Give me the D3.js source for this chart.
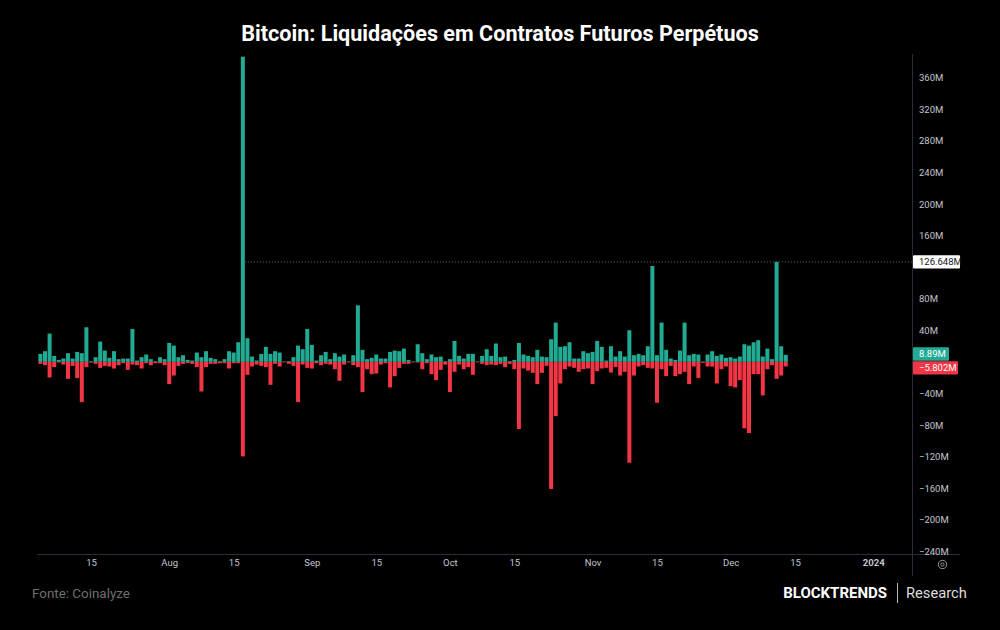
<!DOCTYPE html>
<html>
<head>
<meta charset="utf-8">
<script src="https://cdn.jsdelivr.net/npm/d3@7"></script>
<style>
  html, body { margin: 0; padding: 0; background: #000; }
  svg { display: block; }
</style>
</head>
<body>
<svg id="chart" width="1000" height="630"></svg>
<script>
// ---- DATA (values in millions USD) ----
const startDay = "2023-07-04";
const endDay = "2023-12-14"; // exclusive
const longLiq = [
  10.1,13.5,35.8,7.6,2.5,4.2,11.0,4.2,12.6,11.0,
  43.8,0.8,5.9,25.7,14.3,5.1,13.5,3.4,4.2,4.2,
  41.7,1.7,5.9,9.3,3.4,0.8,5.9,3.4,24.0,20.6,
  5.9,8.4,2.5,1.7,11.8,5.9,13.5,5.1,3.4,0.8,
  3.4,13.5,11.8,24.8,386.6,29.9,6.7,1.7,10.1,19.0,
  10.1,13.5,11.8,0.6,0.8,5.9,20.6,16.0,41.7,21.5,
  1.7,8.4,12.6,3.4,11.0,6.7,9.3,0.6,8.4,71.6,
  15.2,3.4,5.1,9.3,4.2,4.2,12.6,14.3,13.5,16.8,
  2.5,0.6,22.3,11.0,3.4,9.3,5.9,6.7,0.8,3.4,
  26.5,7.6,4.2,10.1,10.1,0.6,7.6,16.0,7.6,23.2,
  5.9,6.7,0.8,2.5,24.0,9.3,7.6,5.9,15.2,6.7,
  5.9,28.6,49.7,19.0,19.8,24.8,4.2,4.2,13.5,11.0,
  12.6,26.5,19.0,1.7,19.8,6.7,13.5,6.7,40.0,8.4,
  10.1,8.4,19.8,121.4,8.4,49.7,15.2,4.2,2.5,14.3,
  49.7,8.4,10.1,9.3,0.5,9.3,13.5,7.6,9.3,5.1,
  5.9,4.2,6.7,22.3,20.6,24.8,27.4,6.7,16.8,3.4,
  126.648,19.8,8.89
];
const shortLiq = [
  2.5,4.2,19.8,6.7,0.8,3.4,21.5,5.1,20.6,51.0,
  6.7,0.8,2.5,7.6,5.1,5.9,8.4,4.2,1.7,10.1,
  3.4,4.2,8.4,1.7,4.2,1.7,1.7,4.2,28.2,17.3,
  5.1,2.5,1.7,2.5,6.7,37.5,6.7,2.5,2.5,1.7,
  1.7,8.4,1.7,1.7,119.8,16.4,5.9,3.4,5.1,6.7,
  29.1,2.5,5.9,0.6,2.5,5.1,51.0,3.4,7.6,8.4,
  1.7,4.2,2.5,3.4,9.3,24.0,3.4,0.6,4.2,6.7,
  38.3,9.3,15.6,14.7,3.4,1.7,32.4,18.1,7.6,2.5,
  2.5,0.6,0.8,9.3,1.7,15.6,23.2,10.1,3.4,38.3,
  12.6,3.4,9.3,6.7,16.4,0.6,2.5,4.2,3.4,4.2,
  2.5,6.7,2.5,9.3,85.1,8.4,11.0,13.9,28.2,13.9,
  5.1,161.0,68.7,27.4,9.3,5.9,7.6,12.6,9.3,8.4,
  28.2,11.8,8.4,7.6,13.5,6.7,17.3,12.6,127.8,17.3,
  5.9,4.2,7.6,8.4,51.8,9.3,18.1,5.1,18.1,15.6,
  12.6,28.2,5.9,20.6,1.2,5.9,5.9,27.4,9.3,5.9,
  30.8,32.4,23.2,84.3,90.2,15.6,15.6,42.5,9.3,4.2,
  21.5,17.3,5.802
];
const xTickDates = ["2023-07-15","2023-08-01","2023-08-15","2023-09-01","2023-09-15","2023-10-01","2023-10-15","2023-11-01","2023-11-15","2023-12-01","2023-12-15","2024-01-01"];
const xTickLabels = ["15","Aug","15","Sep","15","Oct","15","Nov","15","Dec","15","2024"];
const yTicks = [-240,-200,-160,-120,-80,-40,0,40,80,120,160,200,240,280,320,360];
const yTicksCovered = [0, 120]; // hidden under the price labels in the reference
const markerLevel = 126.648;
const markerFrom = "2023-08-17";
const lastLong = 8.89, lastShort = -5.802;

const title = "Bitcoin: Liquidações em Contratos Futuros Perpétuos";
const source = "Fonte: Coinalyze";

// ---- SETUP ----
const svg = d3.select("#chart");
const parse = d3.utcParse("%Y-%m-%d");
const dates = d3.utcDays(parse(startDay), parse(endDay));
const data = dates.map((d, i) => ({ date: d, pos: longLiq[i], neg: shortLiq[i] }));

const axisX = 912;
const x = d3.scaleUtc()
  .domain([parse("2023-07-15"), parse("2023-12-15")])
  .range([91, 795]);
const y = d3.scaleLinear().domain([-240, 360]).range([551.3, 77.7]);

const GREEN = "#22ab94", RED = "#f23645";
const barW = 4;

svg.append("rect").attr("width", 1000).attr("height", 630).attr("fill", "#000");

// bars
const g = svg.append("g");
g.selectAll("rect.pos").data(data).join("rect")
  .attr("class", "pos")
  .attr("x", d => x(d.date) - barW / 2)
  .attr("width", barW)
  .attr("y", d => y(d.pos))
  .attr("height", d => y(0) - y(d.pos))
  .attr("fill", GREEN);
g.selectAll("rect.neg").data(data).join("rect")
  .attr("class", "neg")
  .attr("x", d => x(d.date) - barW / 2)
  .attr("width", barW)
  .attr("y", y(0))
  .attr("height", d => y(-d.neg) - y(0))
  .attr("fill", RED);

// dotted marker line
svg.append("line")
  .attr("x1", x(parse(markerFrom)) + barW / 2).attr("x2", axisX)
  .attr("y1", y(markerLevel)).attr("y2", y(markerLevel))
  .attr("stroke", "#6a6d78").attr("stroke-width", 1)
  .attr("stroke-dasharray", "1,2");

// frame lines
svg.append("line").attr("x1", 37).attr("x2", 960).attr("y1", 554.5).attr("y2", 554.5)
  .attr("stroke", "#2a2e39").attr("stroke-width", 1);
svg.append("line").attr("x1", axisX + 0.5).attr("x2", axisX + 0.5).attr("y1", 54).attr("y2", 576)
  .attr("stroke", "#2a2e39").attr("stroke-width", 1);

// y axis
const yAxis = d3.axisRight(y).tickValues(yTicks.filter(t => !yTicksCovered.includes(t)))
  .tickSize(0).tickPadding(7)
  .tickFormat(d => (d < 0 ? "\u2212" + Math.abs(d) : d) + "M");
const yg = svg.append("g").attr("transform", `translate(${axisX},0)`).call(yAxis);
yg.select(".domain").remove();
yg.selectAll("text").attr("fill", "#c3c6ce").style("font-family", "Roboto, sans-serif").style("font-size", "9.5px");

// x axis
const xAxis = d3.axisBottom(x).tickValues(xTickDates.map(parse)).tickSize(0).tickPadding(0)
  .tickFormat((d, i) => xTickLabels[i]);
const xg = svg.append("g").attr("transform", "translate(0,559)").call(xAxis);
xg.select(".domain").remove();
xg.selectAll("text").attr("fill", "#c3c6ce").attr("dy", "0.71em")
  .style("font-family", "Roboto, sans-serif").style("font-size", "9.5px")
  .style("font-weight", (d, i) => xTickLabels[i] === "2024" ? "700" : "400");

// price labels
function priceLabel(cy, text, bg, fg, w) {
  svg.append("rect").attr("x", axisX + 1).attr("y", cy - 6.7).attr("width", w).attr("height", 13.4)
    .attr("fill", bg).attr("rx", 1);
  svg.append("text").attr("x", axisX + 7).attr("y", cy).attr("dy", "0.35em")
    .attr("fill", fg).style("font-family", "Roboto, sans-serif").style("font-size", "9.5px")
    .text(text);
}
priceLabel(y(markerLevel), "126.648M", "#ffffff", "#131722", 47);
// last-value labels are stacked so they do not overlap (as in the reference)
priceLabel(y(lastLong) - 0.8, "8.89M", GREEN, "#ffffff", 36);
priceLabel(y(lastLong) - 0.8 + 13.8, "\u22125.802M", RED, "#ffffff", 45);

// gear icon
svg.append("circle").attr("cx", 942.5).attr("cy", 564.5).attr("r", 4.2)
  .attr("fill", "none").attr("stroke", "#9598a1").attr("stroke-width", 1);
svg.append("circle").attr("cx", 942.5).attr("cy", 564.5).attr("r", 1.6)
  .attr("fill", "none").attr("stroke", "#9598a1").attr("stroke-width", 1);

// title
svg.append("text").attr("x", 500).attr("y", 41).attr("text-anchor", "middle")
  .attr("fill", "#ffffff").style("font-family", "Roboto, sans-serif")
  .style("font-weight", "700").style("font-size", "21.6px").text(title);

// footer
svg.append("text").attr("x", 32).attr("y", 598).attr("fill", "#6f6f6f")
  .style("font-family", "Roboto, sans-serif").style("font-size", "13.4px").text(source);
svg.append("text").attr("x", 887).attr("y", 598).attr("text-anchor", "end").attr("fill", "#ffffff")
  .style("font-family", "Roboto, sans-serif").style("font-weight", "700").style("font-size", "15px")
  .text("BLOCKTRENDS");
svg.append("line").attr("x1", 897.5).attr("x2", 897.5).attr("y1", 583).attr("y2", 603)
  .attr("stroke", "#bbbbbb").attr("stroke-width", 1);
svg.append("text").attr("x", 906).attr("y", 598).attr("fill", "#dddddd")
  .style("font-family", "Roboto, sans-serif").style("font-size", "14.7px").text("Research");
</script>
</body>
</html>
